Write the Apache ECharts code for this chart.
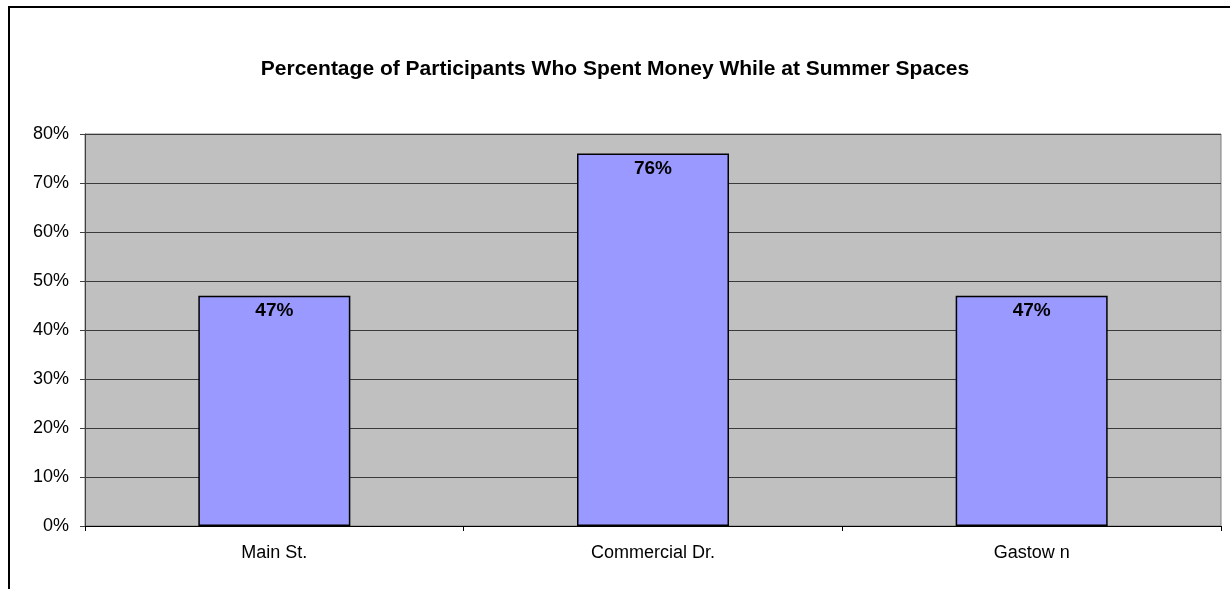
<!DOCTYPE html>
<html><head><meta charset="utf-8">
<script src="https://cdn.jsdelivr.net/npm/echarts@6/dist/echarts.min.js"></script>
<style>html,body{margin:0;padding:0;background:#fff}#c{width:1230px;height:589px}</style>
</head><body><div id="c"></div>
<script>
const categories = ["Main St.", "Commercial Dr.", "Gastow n"];
const values = [47, 76, 47];
const yTicks = [0, 10, 20, 30, 40, 50, 60, 70, 80];
const titleText = "Percentage of Participants Who Spent Money While at Summer Spaces";

const chart = echarts.init(document.getElementById('c'), null, {renderer: 'canvas'});
const font = '"Liberation Sans", Arial, sans-serif';
chart.setOption({
  animation: false,
  backgroundColor: '#ffffff',
  textStyle: {fontFamily: font},
  graphic: [{
    type: 'rect', z: -1, silent: true,
    shape: {x: 9, y: 7, width: 1400, height: 800},
    style: {fill: 'none', stroke: '#000', lineWidth: 2}
  }],
  title: {
    text: titleText, left: 'center', top: 54,
    textStyle: {fontFamily: font, fontSize: 21, fontWeight: 'bold', color: '#000'}
  },
  grid: {
    left: 85, right: 9, top: 134, bottom: 63,
    show: true, backgroundColor: '#c0c0c0', borderColor: '#808080', borderWidth: 1
  },
  xAxis: {
    type: 'category', data: categories,
    axisLine: {show: true, lineStyle: {color: '#000', width: 1}},
    axisTick: {show: true, alignWithLabel: false, length: 5, lineStyle: {color: '#000'}},
    axisLabel: {color: '#000', fontSize: 18, margin: 18, fontFamily: font},
    splitLine: {show: false}
  },
  yAxis: {
    type: 'value', min: yTicks[0], max: yTicks[yTicks.length - 1], interval: 10,
    axisLine: {show: true, lineStyle: {color: '#404040', width: 1}},
    axisTick: {show: true, length: 5, lineStyle: {color: '#404040'}},
    axisLabel: {color: '#000', fontSize: 18, margin: 16, formatter: v => v + '%', fontFamily: font},
    splitLine: {show: true, lineStyle: {color: '#3a3a3a', width: 1}}
  },
  series: [{
    type: 'bar', data: values, barWidth: 152,
    itemStyle: {color: '#9999ff', borderColor: '#000', borderWidth: 1.5},
    label: {
      show: true, position: 'insideTop', distance: 6,
      formatter: p => p.value + '%',
      color: '#000', fontSize: 19, fontWeight: 'bold', fontFamily: font
    }
  }]
});
</script></body></html>
